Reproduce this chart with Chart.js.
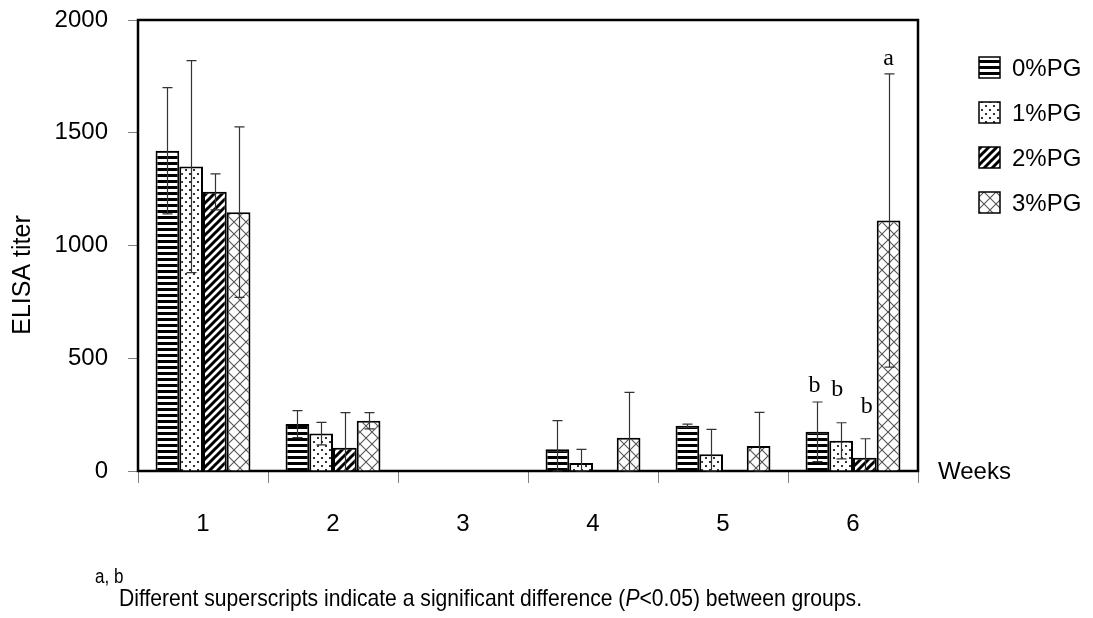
<!DOCTYPE html>
<html><head><meta charset="utf-8">
<script src="https://cdn.jsdelivr.net/npm/chart.js@4.4.1/dist/chart.umd.min.js"></script>
<style>html,body{margin:0;padding:0;background:#fff;overflow:hidden}</style>
</head><body>
<canvas id="c" width="1093" height="618"></canvas>
<script>
// ---- data ----
const weeks = ['1', '2', '3', '4', '5', '6'];
const groups = ['0%PG', '1%PG', '2%PG', '3%PG'];
const pg0 = [1420, 208, 0, 96, 201, 174];
const pg1 = [1350, 166, 0, 35, 74, 134];
const pg2 = [1238, 103, 0, 0, 0, 59];
const pg3 = [1148, 223, 0, 148, 111, 1111];
const sd0 = [280, 60, 0, 127, 7, 132];
const sd1 = [470, 50, 0, 61, 111, 80];
const sd2 = [80, 156, 0, 0, 0, 84];
const sd3 = [378, 36, 0, 201, 149, 650];
const sig0 = ['', '', '', '', '', 'b'];
const sig1 = ['', '', '', '', '', 'b'];
const sig2 = ['', '', '', '', '', 'b'];
const sig3 = ['', '', '', '', '', 'a'];
const yTicks = [0, 500, 1000, 1500, 2000];
const yTitle = 'ELISA titer';
const xTitle = 'Weeks';
const noteSup = 'a, b';
const noteText = 'Different superscripts indicate a significant difference (P<0.05) between groups.';

const values = [pg0, pg1, pg2, pg3];
const sds = [sd0, sd1, sd2, sd3];
const sigs = [sig0, sig1, sig2, sig3];

// ---- patterns ----
function makePattern(kind) {
  const c = document.createElement('canvas');
  const g = c.getContext('2d');
  if (kind === 'h') {
    c.width = 8; c.height = 6;
    g.fillStyle = '#fff'; g.fillRect(0, 0, 8, 6);
    g.fillStyle = '#000'; g.fillRect(0, 0, 8, 3);
  } else if (kind === 'dot') {
    c.width = 8; c.height = 8;
    g.fillStyle = '#fff'; g.fillRect(0, 0, 8, 8);
    g.fillStyle = '#333';
    g.fillRect(1, 1, 2, 2); g.fillRect(5, 5, 2, 2);
  } else if (kind === 'diag') {
    c.width = 8; c.height = 8;
    g.fillStyle = '#fff'; g.fillRect(0, 0, 8, 8);
    g.strokeStyle = '#000'; g.lineWidth = 3;
    g.beginPath();
    g.moveTo(-2, 10); g.lineTo(10, -2);
    g.moveTo(-6, 6); g.lineTo(6, -6);
    g.moveTo(2, 14); g.lineTo(14, 2);
    g.stroke();
  } else {
    c.width = 12; c.height = 12;
    g.fillStyle = '#fff'; g.fillRect(0, 0, 12, 12);
    g.strokeStyle = '#555'; g.lineWidth = 1.1;
    g.beginPath();
    g.moveTo(0, 0); g.lineTo(12, 12);
    g.moveTo(12, 0); g.lineTo(0, 12);
    g.stroke();
  }
  return g.createPattern(c, 'repeat');
}
const fills = [makePattern('h'), makePattern('dot'), makePattern('diag'), makePattern('x')];

const FONT = 'Liberation Sans, Arial, sans-serif';

// ---- plugin: frame, error bars, letters, legend, texts ----
const decor = {
  id: 'decor',
  beforeDatasetsDraw(chart) {
    const { ctx, chartArea: a } = chart;
    ctx.save();
    ctx.strokeStyle = '#000';
    ctx.lineWidth = 2.5;
    ctx.strokeRect(a.left, a.top, a.right - a.left, a.bottom - a.top);
    ctx.restore();
  },
  afterDatasetsDraw(chart, args, opts) {
    const { ctx } = chart;
    const y = chart.scales.y;
    ctx.save();
    ctx.strokeStyle = '#333';
    ctx.lineWidth = 1.2;
    values.forEach((vals, i) => {
      const meta = chart.getDatasetMeta(i);
      meta.data.forEach((bar, j) => {
        const sd = sds[i][j];
        const v = vals[j];
        if (sd > 0) {
          const top = y.getPixelForValue(v + sd);
          const bot = y.getPixelForValue(Math.max(v - sd, 0));
          const x = Math.round(bar.x) + 0.5;
          ctx.beginPath();
          ctx.moveTo(x, top); ctx.lineTo(x, bot);
          ctx.moveTo(x - 5, top); ctx.lineTo(x + 5, top);
          ctx.moveTo(x - 5, bot); ctx.lineTo(x + 5, bot);
          ctx.stroke();
        }
        const s = sigs[i][j];
        if (s) {
          const top = y.getPixelForValue(v + sd);
          ctx.fillStyle = '#000';
          ctx.font = '24px "Liberation Serif", "Times New Roman", serif';
          ctx.textAlign = 'center';
          ctx.textBaseline = 'alphabetic';
          ctx.fillText(s, bar.x + opts.letterDx[i], top - opts.letterGap[i]);
        }
      });
    });
    ctx.restore();
  },
  afterDraw(chart, args, opts) {
    const { ctx, chartArea: a } = chart;
    ctx.save();
    // legend
    ctx.font = '24px ' + FONT;
    ctx.textBaseline = 'middle';
    ctx.textAlign = 'left';
    groups.forEach((g, i) => {
      const cy = opts.legendY + i * opts.legendGap;
      ctx.fillStyle = fills[i];
      ctx.fillRect(opts.legendX, cy - 11, 21, 21);
      ctx.strokeStyle = '#000';
      ctx.lineWidth = 1.5;
      ctx.strokeRect(opts.legendX, cy - 11, 21, 21);
      ctx.fillStyle = '#000';
      ctx.fillText(g, opts.legendX + 33, cy + 1);
    });
    // x title
    ctx.fillText(xTitle, a.right + 20, a.bottom + 1);
    // y title
    ctx.save();
    ctx.translate(23, 275);
    ctx.rotate(-Math.PI / 2);
    ctx.textAlign = 'center';
    ctx.font = '25px ' + FONT;
    ctx.fillText(yTitle, 0, 0);
    ctx.restore();
    // footnote
    ctx.font = '20px ' + FONT;
    ctx.textAlign = 'left';
    ctx.textBaseline = 'alphabetic';
    ctx.save();
    ctx.translate(95, 583);
    ctx.scale(0.85, 1);
    ctx.fillText(noteSup, 0, 0);
    ctx.restore();
    const parts = [['Different superscripts indicate a significant difference (', ''], ['P', 'italic '], ['<0.05) between groups.', '']];
    let total = 0;
    parts.forEach(p => { ctx.font = p[1] + '24px ' + FONT; total += ctx.measureText(p[0]).width; });
    const sx = 743 / total;
    ctx.save();
    ctx.translate(119, 606);
    ctx.scale(sx, 1);
    let cx = 0;
    parts.forEach(p => { ctx.font = p[1] + '24px ' + FONT; ctx.fillText(p[0], cx, 0); cx += ctx.measureText(p[0]).width; });
    ctx.restore();
    ctx.restore();
  }
};

new Chart(document.getElementById('c'), {
  type: 'bar',
  data: {
    labels: weeks,
    datasets: groups.map((g, i) => ({
      label: g,
      data: values[i],
      backgroundColor: fills[i],
      borderColor: '#000',
      borderWidth: 2,
      categoryPercentage: 0.73,
      barPercentage: 1.0
    }))
  },
  options: {
    responsive: false,
    animation: false,
    devicePixelRatio: 1,
    layout: { padding: { top: 20, right: 175, left: 0, bottom: 0 } },
    plugins: {
      legend: { display: false },
      tooltip: { enabled: false },
      decor: { letterGap: [10, 27, 26, 9], letterDx: [-3, -4, 2, 0], legendX: 979, legendY: 68, legendGap: 45 }
    },
    scales: {
      x: {
        grid: { drawOnChartArea: false, tickLength: 12, color: '#808080', offset: true },
        border: { display: false },
        ticks: { font: { family: FONT, size: 24 }, color: '#000', padding: 27 },
        afterFit(s) { s.height = 147; s.paddingLeft = 0; s.paddingRight = 0; }
      },
      y: {
        min: 0, max: 2000,
        afterBuildTicks(s) { s.ticks = yTicks.map(v => ({ value: v })); },
        grid: { drawOnChartArea: false, tickLength: 10, color: '#808080' },
        border: { display: false },
        ticks: { font: { family: FONT, size: 24 }, color: '#000', padding: 20, callback: v => String(v) },
        afterFit(s) { s.width = 138; s.paddingTop = 0; s.paddingBottom = 0; }
      }
    }
  },
  plugins: [decor]
});
</script>
</body></html>
